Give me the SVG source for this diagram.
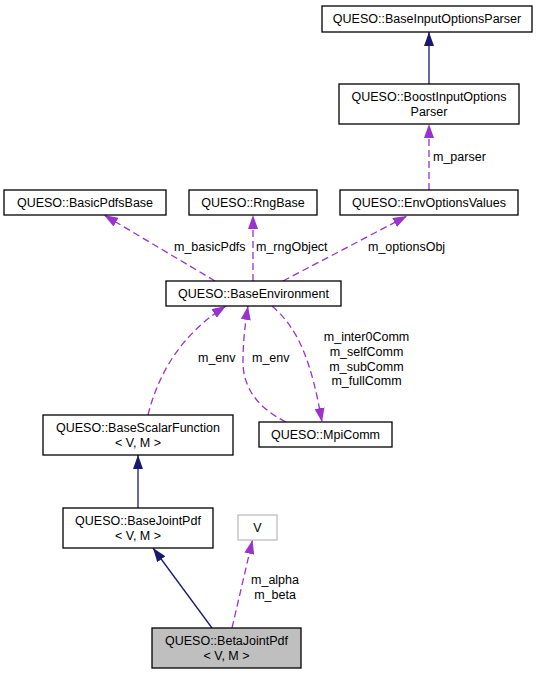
<svg xmlns="http://www.w3.org/2000/svg" width="541" height="675" viewBox="0 0 541 675">
<style>
.n rect{fill:#ffffff;stroke:#000000;stroke-width:1.3}
text{font-family:"Liberation Sans",Arial,Helvetica,sans-serif;font-size:12.5px;fill:#000000}
.n text{text-anchor:middle}
.inh{fill:none;stroke:#191970;stroke-width:1.3;marker-end:url(#ah)}
.use{fill:none;stroke:#9a32cd;stroke-width:1.3;stroke-dasharray:7,4;marker-end:url(#au)}
.mid{text-anchor:middle}
</style>
<defs>
<marker id="ah" markerUnits="userSpaceOnUse" markerWidth="14" markerHeight="10" viewBox="0 0 14 10" refX="14" refY="5" orient="auto"><path d="M0,0L14,5L0,10z" fill="#191970"/></marker>
<marker id="au" markerUnits="userSpaceOnUse" markerWidth="14" markerHeight="10" viewBox="0 0 14 10" refX="14" refY="5" orient="auto"><path d="M0,0L14,5L0,10z" fill="#9a32cd"/></marker>
</defs>
<rect width="541" height="675" fill="#ffffff"/>
<g id="connectors">
<path class="inh" d="M429,84 L429,32"/>
<path class="use" d="M429,190 L429,124"/>
<text x="433" y="161">m_parser</text>
<path class="use" d="M215,281 L104,215"/>
<text x="174" y="251">m_basicPdfs</text>
<path class="use" d="M253,281 L253,215"/>
<text x="256" y="251">m_rngObject</text>
<path class="use" d="M283,281 L407,216"/>
<text x="368" y="251">m_optionsObj</text>
<path class="use" d="M148,415 C158,375 180,335 226,306"/>
<text x="198" y="362">m_env</text>
<path class="use" d="M286,422 C258,408 243,388 243,362 C243,342 245,325 248,306"/>
<text x="252" y="362">m_env</text>
<path class="use" d="M272,306 C300,330 312,365 322,422"/>
<text class="mid" x="366.5" y="341">m_inter0Comm</text>
<text class="mid" x="366.5" y="356">m_selfComm</text>
<text class="mid" x="366.5" y="371">m_subComm</text>
<text class="mid" x="366.5" y="385">m_fullComm</text>
<path class="inh" d="M138,508 L138,455"/>
<path class="inh" d="M212,628 L153,548"/>
<path class="use" d="M232,628 L252.5,540"/>
<text class="mid" x="275" y="584">m_alpha</text>
<text class="mid" x="275" y="599">m_beta</text>
</g>
<g id="n_baseinput" class="n"><rect x="322" y="6" width="210" height="26"/><text x="427" y="23">QUESO::BaseInputOptionsParser</text></g>
<g id="n_boost" class="n"><rect x="339" y="84" width="180" height="40"/><text x="429" y="101">QUESO::BoostInputOptions</text><text x="429" y="116">Parser</text></g>
<g id="n_basicpdfs" class="n"><rect x="4" y="190" width="162" height="25"/><text x="85" y="207">QUESO::BasicPdfsBase</text></g>
<g id="n_rng" class="n"><rect x="189" y="190" width="128" height="25"/><text x="253" y="207">QUESO::RngBase</text></g>
<g id="n_envopts" class="n"><rect x="340" y="190" width="178" height="25"/><text x="429" y="207">QUESO::EnvOptionsValues</text></g>
<g id="n_baseenv" class="n"><rect x="166" y="281" width="175" height="25"/><text x="253.5" y="298">QUESO::BaseEnvironment</text></g>
<g id="n_scalar" class="n"><rect x="43" y="415" width="190" height="40"/><text x="138" y="432">QUESO::BaseScalarFunction</text><text x="138" y="447">&lt; V, M &gt;</text></g>
<g id="n_mpi" class="n"><rect x="259" y="422" width="133" height="25"/><text x="325.5" y="439">QUESO::MpiComm</text></g>
<g id="n_jointpdf" class="n"><rect x="63" y="508" width="150" height="40"/><text x="138" y="525">QUESO::BaseJointPdf</text><text x="138" y="540">&lt; V, M &gt;</text></g>
<g id="n_v" class="n"><rect x="238" y="515" width="39" height="25" style="stroke:#bfbfbf"/><text x="257.5" y="532">V</text></g>
<g id="n_beta" class="n"><rect x="152" y="628" width="149" height="40" style="fill:#bfbfbf"/><text x="226.5" y="645">QUESO::BetaJointPdf</text><text x="226.5" y="660">&lt; V, M &gt;</text></g>
</svg>
